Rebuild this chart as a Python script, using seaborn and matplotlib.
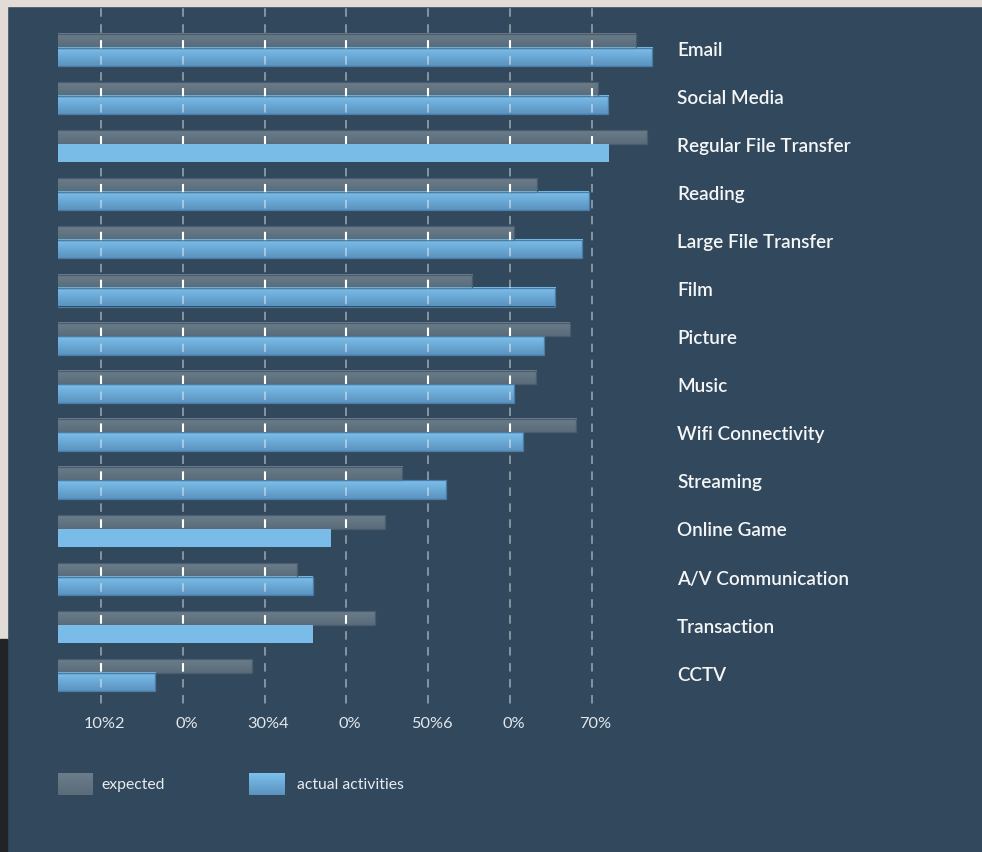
import numpy as np
import pandas as pd
import matplotlib
matplotlib.use("Agg")
import matplotlib.pyplot as plt
import matplotlib.transforms as mtransforms
import seaborn as sns
from matplotlib.colors import to_rgb
from matplotlib.patches import Rectangle

# ---- data -------------------------------------------------------------
categories = [
    "Email", "Social Media", "Regular File Transfer", "Reading",
    "Large File Transfer", "Film", "Picture", "Music", "Wifi Connectivity",
    "Streaming", "Online Game", "A/V Communication", "Transaction", "CCTV",
]
expected = [75.4, 70.8, 76.7, 63.3, 60.5, 55.4, 67.3, 63.2, 68.1, 46.8, 44.7, 34.0, 43.5, 28.5]
actual = [77.4, 72.0, 72.1, 69.6, 68.8, 65.5, 64.1, 60.5, 61.6, 52.2, 38.1, 35.9, 35.9, 16.6]
highlighted = ["Regular File Transfer", "Online Game", "Transaction"]
tick_values = [10, 20, 30, 40, 50, 60, 70]
tick_labels = ["10%2", "0%", "30%4", "0%", "50%6", "0%", "70%"]
legend_labels = ["expected", "actual activities"]

# ---- style ------------------------------------------------------------
BG = "#31485d"
BEIGE = "#e3dbd5"
DARK_EDGE = "#202427"
GRAY_TOP, GRAY_BOT, GRAY_EDGE = "#6b7c8b", "#5a6b7a", "#4b5d6d"
BLUE_TOP, BLUE_BOT, BLUE_EDGE = "#7cc0ec", "#5b92c0", "#4a7ca6"
BLUE_FLAT = "#7abce8"

sns.set_theme(style="dark")
plt.rcParams["font.family"] = ["Lato", "DejaVu Sans"]
plt.rcParams["lines.scale_dashes"] = False

W, H, DPI = 982, 852, 100
fig = plt.figure(figsize=(W / DPI, H / DPI), dpi=DPI, facecolor=BG)

# page edges around the panel
fig.patches.append(Rectangle((0, 1 - 6 / H), 1, 6 / H, transform=fig.transFigure,
                             color=BEIGE, zorder=0))
fig.patches.append(Rectangle((0, (H - 639) / H), 7 / W, 639 / H, transform=fig.transFigure,
                             color=BEIGE, zorder=0))
fig.patches.append(Rectangle((0, 0), 7 / W, (H - 639) / H, transform=fig.transFigure,
                             color=DARK_EDGE, zorder=0))

# plot area in pixels
ax_l, ax_r, ax_t, ax_b = 58, 660, 6.5, 707
ax = fig.add_axes([ax_l / W, (H - ax_b) / H, (ax_r - ax_l) / W, (ax_b - ax_t) / H])
ax.set_facecolor("none")

pitch = 48.1           # pixels per category row
px_per_unit = 8.18     # pixels per percent
x_at_left = 4.74       # value at the left edge of the plot area

pos = np.arange(len(categories), dtype=float)
g_h, b_h = 13.5 / pitch, 18.5 / pitch
g_c = -(15.5 - 13.5 / 2) / pitch
b_c = (-2.0 + 18.5 / 2) / pitch

df = pd.DataFrame({
    "category": categories * 2,
    "value": expected + actual,
    "series": ["expected"] * len(categories) + ["actual"] * len(categories),
    "pos": np.concatenate([pos + g_c, pos + b_c]),
})

n0 = len(ax.patches)
sns.barplot(data=df[df.series == "expected"], x="value", y="pos", orient="h",
            native_scale=True, width=g_h, color=GRAY_TOP, errorbar=None, ax=ax)
gray_patches = ax.patches[n0:]
n1 = len(ax.patches)
sns.barplot(data=df[df.series == "actual"], x="value", y="pos", orient="h",
            native_scale=True, width=b_h, color=BLUE_TOP, errorbar=None, ax=ax)
blue_patches = ax.patches[n1:]


def gradient(top, bot, n=64):
    t = np.linspace(0, 1, n)[:, None]
    c0, c1 = np.array(to_rgb(top)), np.array(to_rgb(bot))
    return (c0 * (1 - t) + c1 * t)[:, None, :]


def shade(patch, top, bot, edge):
    x0, y0 = patch.get_x(), patch.get_y()
    w, h = patch.get_width(), patch.get_height()
    ax.imshow(gradient(top, bot), extent=(x0, x0 + w, y0 + h, y0), origin="upper",
              aspect="auto", interpolation="bilinear", zorder=1.0)
    patch.set_facecolor("none")
    patch.set_edgecolor(edge)
    patch.set_linewidth(0.9)
    patch.set_zorder(1.1)


for p in gray_patches:
    shade(p, GRAY_TOP, GRAY_BOT, GRAY_EDGE)

for cat, p in zip(categories, blue_patches):
    if cat in highlighted:
        p.set_facecolor(BLUE_FLAT)
        p.set_edgecolor("none")
        p.set_zorder(3)
    else:
        shade(p, BLUE_TOP, BLUE_BOT, BLUE_EDGE)

# axis ranges
x_right = x_at_left + (ax_r - ax_l) / px_per_unit
y_top = (ax_t - 49.5) / pitch
y_bot = (ax_b - 49.5) / pitch
ax.set_xlim(x_at_left, x_right)
ax.set_ylim(y_bot, y_top)

# dashed vertical guides
dash = (9.0, (6.1, 5.4))
ax.set_axisbelow(False)
ax.xaxis.grid(True, color="white", alpha=0.45, linewidth=1.3, linestyle=dash)
ax.yaxis.grid(False)
for p in gray_patches:
    lc = ax.vlines(tick_values, y_bot, y_top, colors="white", linewidth=1.5,
                   linestyles=[dash], zorder=2.6)
    lc.set_clip_path(p)

# ticks and labels
ax.set_xticks(tick_values, tick_labels)
ax.set_yticks(pos, categories)
ax.yaxis.tick_right()
ax.tick_params(axis="x", length=0, pad=7.5, labelsize=11.8, labelcolor="#e2e7eb")
ax.tick_params(axis="y", length=0, pad=12.2, labelsize=13.6, labelcolor="#f5f6f7")
nudge = mtransforms.ScaledTranslation(3.5 / DPI, 0, fig.dpi_scale_trans)
for t in ax.get_xticklabels():
    t.set_transform(t.get_transform() + nudge)
nudge_y = mtransforms.ScaledTranslation(0, 1.0 / DPI, fig.dpi_scale_trans)
for t in ax.get_yticklabels():
    t.set_fontweight("semibold")
    t.set_transform(t.get_transform() + nudge_y)
ax.set_xlabel("")
ax.set_ylabel("")
for s in ax.spines.values():
    s.set_visible(False)

# legend
lg = fig.add_axes([0, 0, 1, 1], facecolor="none")
lg.set_xlim(0, W)
lg.set_ylim(H, 0)
lg.axis("off")
for (x0, x1), (top, bot), text, tx in zip(
        [(58, 93), (249, 285)], [(GRAY_TOP, GRAY_BOT), (BLUE_TOP, BLUE_BOT)],
        legend_labels, [101.7, 296.7]):
    lg.imshow(gradient(top, bot), extent=(x0, x1, 795, 773), origin="upper",
              aspect="auto", interpolation="bilinear")
    lg.text(tx, 785, text, ha="left", va="center", fontsize=11.3, color="#e8ecef")
lg.set_xlim(0, W)
lg.set_ylim(H, 0)

fig.savefig("out.png", dpi=DPI, facecolor=BG)
